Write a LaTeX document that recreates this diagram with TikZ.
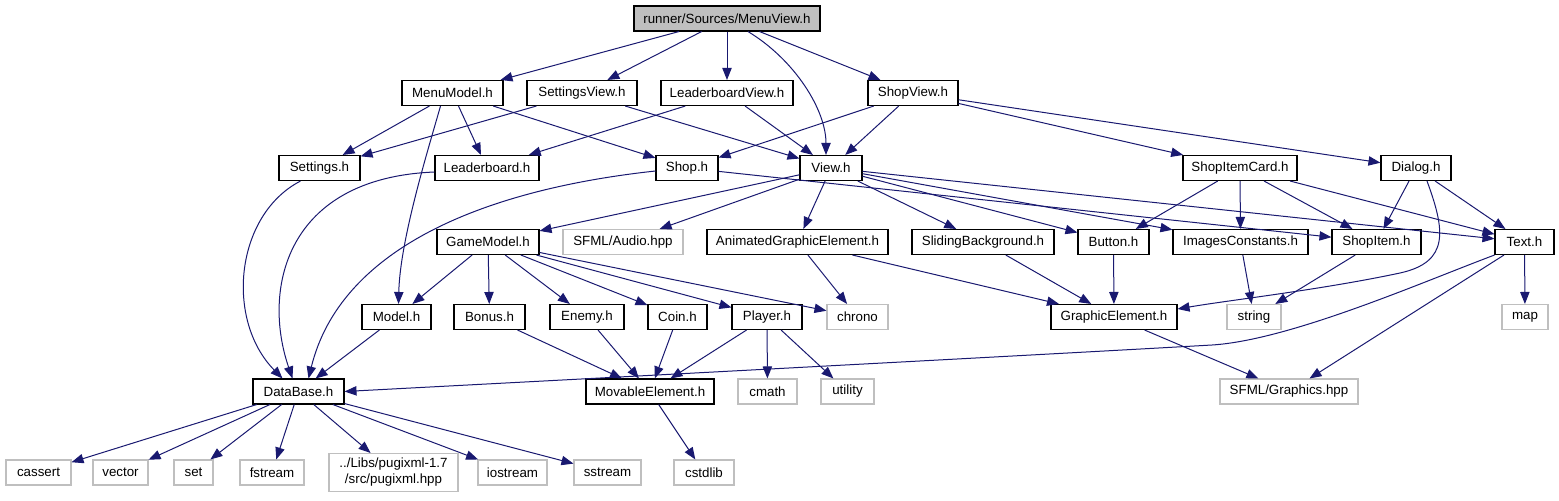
\documentclass[tikz,border=0pt]{standalone}
\usepackage{fontspec}
\setmainfont{Liberation Sans}
\usetikzlibrary{arrows.meta,calc}
\definecolor{edgeblue}{HTML}{191970}
\definecolor{extgray}{HTML}{BFBFBF}
\begin{document}
\begin{tikzpicture}[x=0.75pt,y=-0.75pt,
  box/.style={draw=black,line width=0.8pt,fill=white,inner sep=0pt,minimum height=18.75pt,font=\fontsize{10pt}{12pt}\selectfont,text=black,align=center},
  ext/.style={box,draw=extgray},
  root/.style={box,fill=extgray},
  bw/.style={minimum width=#1*0.75pt},
  dep/.style={draw=edgeblue,line width=0.75pt,-{Triangle[length=9pt,width=7pt]}}
]
\useasboundingbox (0,0) rectangle (1559,500);
% row 0
\node[root,bw=186] (mv) at (727,18.5) {runner/Sources/MenuView.h};
% row 1
\node[box,bw=101] (mm) at (452.5,93) {MenuModel.h};
\node[box,bw=110] (sv) at (582,93) {SettingsView.h};
\node[box,bw=132] (lv) at (727,93) {LeaderboardView.h};
\node[box,bw=90] (shv) at (913,93) {ShopView.h};
% row 2
\node[box,bw=81] (st) at (319.5,168) {Settings.h};
\node[box,bw=104] (lb) at (487,168) {Leaderboard.h};
\node[box,bw=62] (sh) at (687,168) {Shop.h};
\node[box,bw=62] (vw) at (831,168) {View.h};
\node[box,bw=114] (sic) at (1240,168) {ShopItemCard.h};
\node[box,bw=70] (dlg) at (1416,168) {Dialog.h};
% row 3
\node[box,bw=102] (gm) at (488,242) {GameModel.h};
\node[ext,bw=120] (sfa) at (623,242) {SFML/Audio.hpp};
\node[box,bw=181] (age) at (797.5,242) {AnimatedGraphicElement.h};
\node[box,bw=142] (sb) at (983,242) {SlidingBackground.h};
\node[box,bw=71] (btn) at (1113.5,242) {Button.h};
\node[box,bw=135] (ic) at (1240.5,242) {ImagesConstants.h};
\node[box,bw=89] (si) at (1376.5,242) {ShopItem.h};
\node[box,bw=59] (txt) at (1524.5,242) {Text.h};
% row 4
\node[box,bw=69] (mdl) at (396.5,317) {Model.h};
\node[box,bw=71] (bon) at (489.5,317) {Bonus.h};
\node[box,bw=74] (en) at (587,317) {Enemy.h};
\node[box,bw=59] (cn) at (677.5,317) {Coin.h};
\node[box,bw=70] (pl) at (767,317) {Player.h};
\node[ext,bw=61] (chr) at (857.5,317) {chrono};
\node[box,bw=126] (ge) at (1114,317) {GraphicElement.h};
\node[ext,bw=54] (str) at (1254,317) {string};
\node[ext,bw=46] (mp) at (1525,317) {map};
% row 5
\node[box,bw=91] (db) at (298.5,391.5) {DataBase.h};
\node[box,bw=128] (me) at (650,391.5) {MovableElement.h};
\node[ext,bw=59] (cm) at (767.5,391.5) {cmath};
\node[ext,bw=53] (ut) at (847.5,391.5) {utility};
\node[ext,bw=138] (sfg) at (1289,391.5) {SFML/Graphics.hpp};
% row 6
\node[ext,bw=65] (cas) at (38.5,472.5) {cassert};
\node[ext,bw=55] (vec) at (120.5,472.5) {vector};
\node[ext,bw=39] (nset) at (193.5,472.5) {set};
\node[ext,bw=64] (fst) at (272,472.5) {fstream};
\node[ext,bw=129,minimum height=28.5pt] (pug) at (393.5,472.5) {../Libs/pugixml-1.7\\/src/pugixml.hpp};
\node[ext,bw=69] (ios) at (512.5,472.5) {iostream};
\node[ext,bw=67] (sst) at (607.5,472.5) {sstream};
\node[ext,bw=60] (csl) at (704,472.5) {cstdlib};

% edges from MenuView
\draw[dep] (mv) -- (mm);
\draw[dep] (mv) -- (sv);
\draw[dep] (mv) -- (lv);
\draw[dep] ($(mv.south)+(21,0)$) .. controls (795,60) and (826,110) .. ($(vw.north)+(-5,0)$);
\draw[dep] (mv) -- (shv);
% row 1 edges
\draw[dep] (mm) -- (st);
\draw[dep] (mm) -- (lb);
\draw[dep] (mm) -- (sh);
\draw[dep] ($(mm.south)+(-12,0)$) .. controls (428,150) and (400,240) .. ($(mdl.north)+(2,0)$);
\draw[dep] (sv) -- (st);
\draw[dep] (sv) -- (vw);
\draw[dep] (lv) -- (lb);
\draw[dep] (lv) -- (vw);
\draw[dep] (shv) -- (sh);
\draw[dep] (shv) -- (vw);
\draw[dep] (shv) -- (sic);
\draw[dep] (shv) -- (dlg);
% row 2 edges
\draw[dep] ($(st.south)+(-19,0)$) .. controls (235,215) and (225,320) .. ($(db.north)+(-16,0)$);
\draw[dep] ($(lb.west)+(0,4)$) .. controls (285,178) and (262,290) .. ($(db.north)+(-6,0)$);
\draw[dep] ($(sh.west)+(0,3)$) .. controls (480,190) and (340,250) .. ($(db.north)+(10,0)$);
\draw[dep] (sh) -- (si);
\draw[dep] (vw) -- (gm);
\draw[dep] (vw) -- (sfa);
\draw[dep] (vw) -- (age);
\draw[dep] (vw) -- (sb);
\draw[dep] (vw) -- (btn);
\draw[dep] (vw) -- (ic);
\draw[dep] (vw) -- (txt);
\draw[dep] (sic) -- (btn);
\draw[dep] (sic) -- (ic);
\draw[dep] (sic) -- (si);
\draw[dep] (sic) -- (txt);
\draw[dep] (dlg) -- (si);
\draw[dep] (dlg) -- (txt);
\draw[dep] ($(dlg.south)+(11,0)$) .. controls (1445,230) and (1450,262) .. (1400,273) .. controls (1320,290) and (1230,300) .. ($(ge.east)+(0,-8)$);
% row 3 edges
\draw[dep] (gm) -- (mdl);
\draw[dep] (gm) -- (bon);
\draw[dep] (gm) -- (en);
\draw[dep] (gm) -- (cn);
\draw[dep] (gm) -- (pl);
\draw[dep] (gm) -- (chr);
\draw[dep] (age) -- (chr);
\draw[dep] (age) -- (ge);
\draw[dep] (sb) -- (ge);
\draw[dep] (btn) -- (ge);
\draw[dep] (ic) -- (str);
\draw[dep] (si) -- (str);
\draw[dep] (txt) -- (mp);
\draw[dep] (txt) -- (sfg);
\draw[dep] (txt.south west) .. controls (1420,283) and (1290,340) .. (1212,345) .. controls (1000,357) and (600,378) .. (db.east);
% row 4 edges
\draw[dep] (mdl) -- (db);
\draw[dep] (bon) -- (me);
\draw[dep] (en) -- (me);
\draw[dep] (cn) -- (me);
\draw[dep] (pl) -- (me);
\draw[dep] (pl) -- (cm);
\draw[dep] (pl) -- (ut);
\draw[dep] (ge) -- (sfg);
% row 5 edges
\draw[dep] (db) -- (cas);
\draw[dep] (db) -- (vec);
\draw[dep] (db) -- (nset);
\draw[dep] (db) -- (fst);
\draw[dep] (db) -- (pug);
\draw[dep] (db) -- (ios);
\draw[dep] (db) -- (sst);
\draw[dep] (me) -- (csl);
\end{tikzpicture}
\end{document}
